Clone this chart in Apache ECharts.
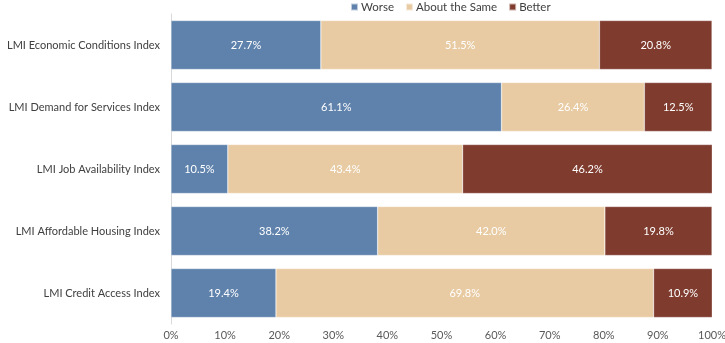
<!DOCTYPE html>
<html><head><meta charset="utf-8">
<script src="https://cdn.jsdelivr.net/npm/echarts@6/dist/echarts.min.js"></script>
<style>html,body{margin:0;padding:0;background:#fff}#c{width:725px;height:343px}</style>
</head><body><div id="c"></div>
<script>
var categories = ["LMI Economic Conditions Index","LMI Demand for Services Index","LMI Job Availability Index","LMI Affordable Housing Index","LMI Credit Access Index"];
var worse = [27.7, 61.1, 10.5, 38.2, 19.4];
var same = [51.5, 26.4, 43.4, 42.0, 69.8];
var better = [20.8, 12.5, 46.2, 19.8, 10.9];
var seriesNames = ["Worse","About the Same","Better"];
var colors = ["#5F82AC","#E8CBA3","#7E3B2E"];
var font = "Lato, 'Open Sans', sans-serif";
var chart = echarts.init(document.getElementById('c'));
function mk(name, data, color){
  return {name:name,type:'bar',stack:'t',data:data,barCategoryGap:'21%',
    itemStyle:{color:color,borderColor:'rgba(255,255,255,0.6)',borderWidth:0.5},
    label:{show:true,position:'inside',color:'#fff',fontSize:11,fontFamily:font,
      formatter:function(p){return p.value.toFixed(1)+'%';}}};
}
chart.setOption({
  animation:false,
  textStyle:{fontFamily:font},
  legend:{top:-4,left:345,itemWidth:7,itemHeight:7,itemGap:11,icon:'rect',
    textStyle:{fontSize:11.5,color:'#404040',fontFamily:font,padding:[0,0,0,-2]}},
  grid:{left:171,right:13,top:14,bottom:19,containLabel:false,outerBoundsMode:'none'},
  xAxis:{type:'value',min:0,max:100,interval:10,
    axisLabel:{formatter:'{value}%',color:'#595959',fontSize:11,fontFamily:font,margin:6},
    splitLine:{show:false},axisLine:{show:false},axisTick:{show:false}},
  yAxis:{type:'category',data:categories,inverse:true,
    axisLine:{show:true,lineStyle:{color:'#d9d9d9'}},axisTick:{show:false},
    axisLabel:{color:'#404040',fontSize:11,fontFamily:font,margin:11}},
  series:[mk(seriesNames[0],worse,colors[0]),mk(seriesNames[1],same,colors[1]),mk(seriesNames[2],better,colors[2])]
});
</script></body></html>
